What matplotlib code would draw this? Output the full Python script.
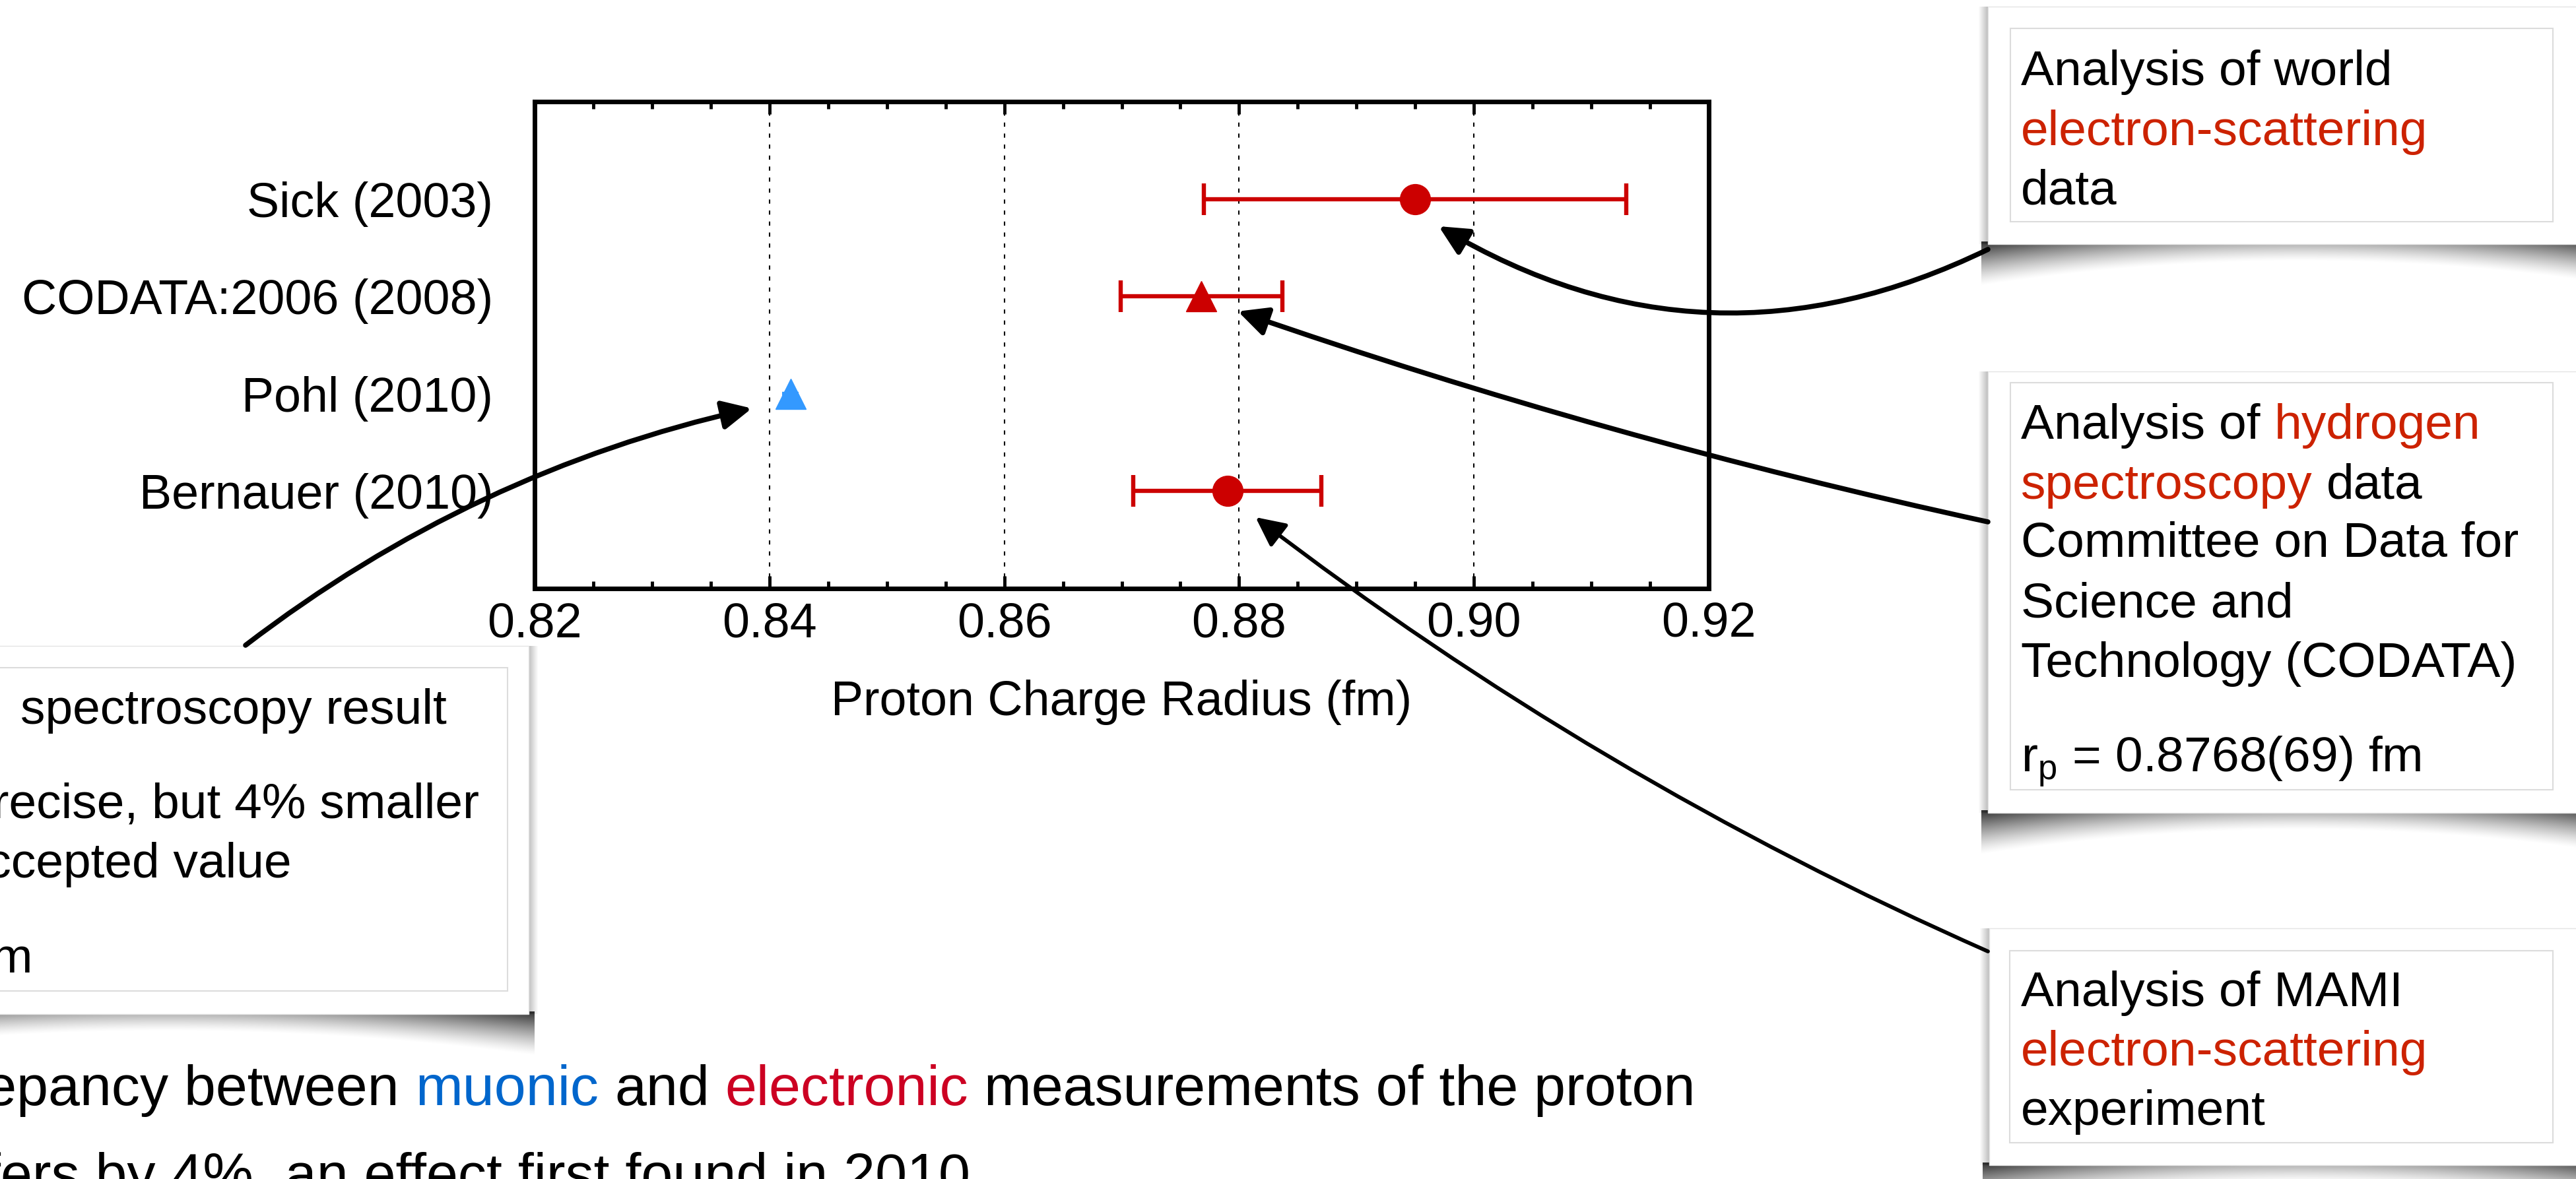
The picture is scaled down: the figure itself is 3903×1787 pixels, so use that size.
import numpy as np
import matplotlib
matplotlib.use("Agg")
import matplotlib.pyplot as plt
from matplotlib.patches import Rectangle
from matplotlib.ticker import MultipleLocator, FormatStrFormatter

plt.rcParams['font.family'] = ['Liberation Sans', 'DejaVu Sans']

# Data
studies = ["Sick (2003)", "CODATA:2006 (2008)", "Pohl (2010)", "Bernauer (2010)"]
radius = [0.895, 0.8768, 0.8418, 0.879]
uncert = [0.018, 0.0069, 0.0007, 0.008]
markers = ["o", "^", "^", "o"]
colors = ["#cc0000", "#cc0000", "#3399ff", "#cc0000"]
x_ticks = [0.82, 0.84, 0.86, 0.88, 0.90, 0.92]

RED = "#cc2200"
BLUE = "#0066cc"
W, H = 3903, 1787

fig = plt.figure(figsize=(W / 100, H / 100), dpi=100)
ax = fig.add_axes([810 / W, 1 - 892 / H, (2589 - 810) / W, (892 - 154) / H])

ypos = np.arange(len(studies), 0, -1)
for y, r, e, m, c in zip(ypos, radius, uncert, markers, colors):
    cap = 0 if e < 0.001 else 17
    ax.errorbar(r, y, xerr=e, fmt=m, color=c, ms=33, markeredgecolor=c,
                elinewidth=4.6, capsize=cap, capthick=4.6, zorder=3)

ax.set_xlim(0.82, 0.92)
ax.set_ylim(0, 5)
ax.set_xticks(x_ticks)
ax.xaxis.set_major_formatter(FormatStrFormatter('%.2f'))
ax.xaxis.set_minor_locator(MultipleLocator(0.005))
ax.set_yticks(ypos)
ax.set_yticklabels(studies)
ax.tick_params(axis='x', which='both', direction='in', top=True, bottom=True,
               width=3.5, labelsize=53, pad=14)
ax.tick_params(axis='x', which='major', length=14)
ax.tick_params(axis='x', which='minor', length=8)
ax.tick_params(axis='y', length=0, labelsize=53, pad=45)
for s in ax.spines.values():
    s.set_linewidth(5)
ax.grid(axis='x', which='major', color='black', linestyle=(0, (3, 5)), linewidth=1.5)
ax.set_xlabel("Proton Charge Radius (fm)", fontsize=53, labelpad=36)

# Overlay in pixel coordinates for callouts and arrows
ov = fig.add_axes([0, 0, 1, 1], zorder=5)
ov.set_axis_off()
ov.patch.set_alpha(0)


def shadow(x0, x1, ytop, d_end=62, d_mid=28):
    xs = np.arange(x0 - 10, x1 + 10)
    u = (xs - (x0 + x1) / 2) / ((x1 - x0) / 2)
    d = d_mid + (d_end - d_mid) * u ** 2
    a = 0.35 + 0.45 * np.clip(u ** 2, 0, 1)
    rows = np.arange(0, d_end + 8)
    t = rows[:, None] / d[None, :]
    img = np.zeros((len(rows), len(xs), 4))
    img[..., 3] = a[None, :] * np.clip(1 - t, 0, 1) ** 1.3
    ov.imshow(img, extent=(xs[0], xs[-1], ytop + len(rows), ytop - 4),
              origin='upper', aspect='auto', interpolation='bilinear', zorder=1)


def side_shade(x, y0, y1, direction):
    cols = np.arange(14)
    img = np.zeros((2, len(cols), 4))
    img[..., 3] = 0.25 * (1 - cols / 14)[None, :]
    if direction < 0:
        img = img[:, ::-1]
        ext = (x - 14, x, y1, y0)
    else:
        ext = (x, x + 14, y1, y0)
    ov.imshow(img, extent=ext, origin='upper', aspect='auto',
              interpolation='bilinear', zorder=1)


def callout(outer, inner, shade_side):
    x0, y0, x1, y1 = outer
    shadow(x0, x1, y1)
    if shade_side < 0:
        side_shade(x0, y0, y1, -1)
    else:
        side_shade(x1, y0, y1, 1)
    ov.add_patch(Rectangle((x0, y0), x1 - x0, y1 - y0, facecolor='white',
                           edgecolor='#e4e4e4', lw=1, zorder=2))
    ix0, iy0, ix1, iy1 = inner
    ov.add_patch(Rectangle((ix0, iy0), ix1 - ix0, iy1 - iy0, fill=False,
                           edgecolor='#dcdcdc', lw=1.5, zorder=3))


def rich(x, y, parts, size=54, ha='left'):
    t = None
    for s, c in parts:
        if t is None:
            t = ov.text(x, y, s, color=c, fontsize=size, ha=ha, va='baseline', zorder=6)
        else:
            t = ov.annotate(s, xy=(1, 0), xycoords=t, xytext=(0.278 * size, 0),
                            textcoords='offset points', color=c, fontsize=size,
                            ha='left', va='bottom', zorder=6)


# Right-hand callouts
callout((3012, 10, 3960, 370), (3046, 43, 3868, 336), -1)
rich(3062, 129, [("Analysis of world", 'black')])
rich(3062, 220, [("electron-scattering", RED)])
rich(3062, 310, [("data", 'black')])

callout((3012, 563, 3960, 1232), (3046, 580, 3868, 1197), -1)
rich(3062, 665, [("Analysis of", 'black'), ("hydrogen", RED)])
rich(3062, 756, [("spectroscopy", RED), ("data", 'black')])
rich(3062, 844, [("Committee on Data for", 'black')])
rich(3062, 935, [("Science and", 'black')])
rich(3062, 1026, [("Technology (CODATA)", 'black')])
rich(3062, 1170, [(r"r$_\mathregular{p}$ = 0.8768(69) fm", 'black')])

callout((3014, 1407, 3960, 1766), (3045, 1441, 3868, 1732), -1)
rich(3062, 1525, [("Analysis of MAMI", 'black')])
rich(3062, 1615, [("electron-scattering", RED)])
rich(3062, 1705, [("experiment", 'black')])

# Left callout (partly off the canvas)
callout((-300, 979, 801, 1537), (-300, 1012, 769, 1502), 1)
rich(-8, 1097, [("Muonic hydrogen", 'black')], ha='right')
rich(677, 1097, [("spectroscopy result", 'black')], ha='right')
rich(726, 1240, [("Very precise, but 4% smaller", 'black')], ha='right')
rich(442, 1330, [("than accepted value", 'black')], ha='right')
rich(46, 1475, [(r"r$_\mathregular{p}$ = 0.84184(67) fm", 'black')], ha='right')

# Bottom caption
rich(605, 1675, [("The discrepancy between", 'black'), ("muonic", BLUE),
                 ("and", 'black'), ("electronic", "#cc0022"),
                 ("measurements of the proton", 'black')], size=62, ha='right')
rich(-371, 1808, [("radius differs by 4%, an effect first found in 2010", 'black')], size=62)

# Arrows from callouts to the points
arrow_starts = [(3012, 378), (3012, 791), (372, 978), (3012, 1442)]
arrow_offsets = [(0.002, -0.28), (0.0031, -0.154), (-0.0033, -0.15), (0.0024, -0.268)]
arrow_rads = [-0.27, -0.03, -0.11, -0.06]
arrow_widths = [5.5, 5.5, 5.5, 4.2]
for i in range(len(studies)):
    tip = (radius[i] + arrow_offsets[i][0], ypos[i] + arrow_offsets[i][1])
    ov.annotate("", xy=tip, xycoords=ax.transData, xytext=arrow_starts[i], textcoords='data',
                arrowprops=dict(arrowstyle="-|>,head_length=0.45,head_width=0.22",
                                connectionstyle="arc3,rad=%s" % arrow_rads[i],
                                color='black', lw=arrow_widths[i],
                                shrinkA=0, shrinkB=0, mutation_scale=60),
                zorder=7)

ov.set_xlim(0, W)
ov.set_ylim(H, 0)

fig.savefig("out.png", dpi=100)
